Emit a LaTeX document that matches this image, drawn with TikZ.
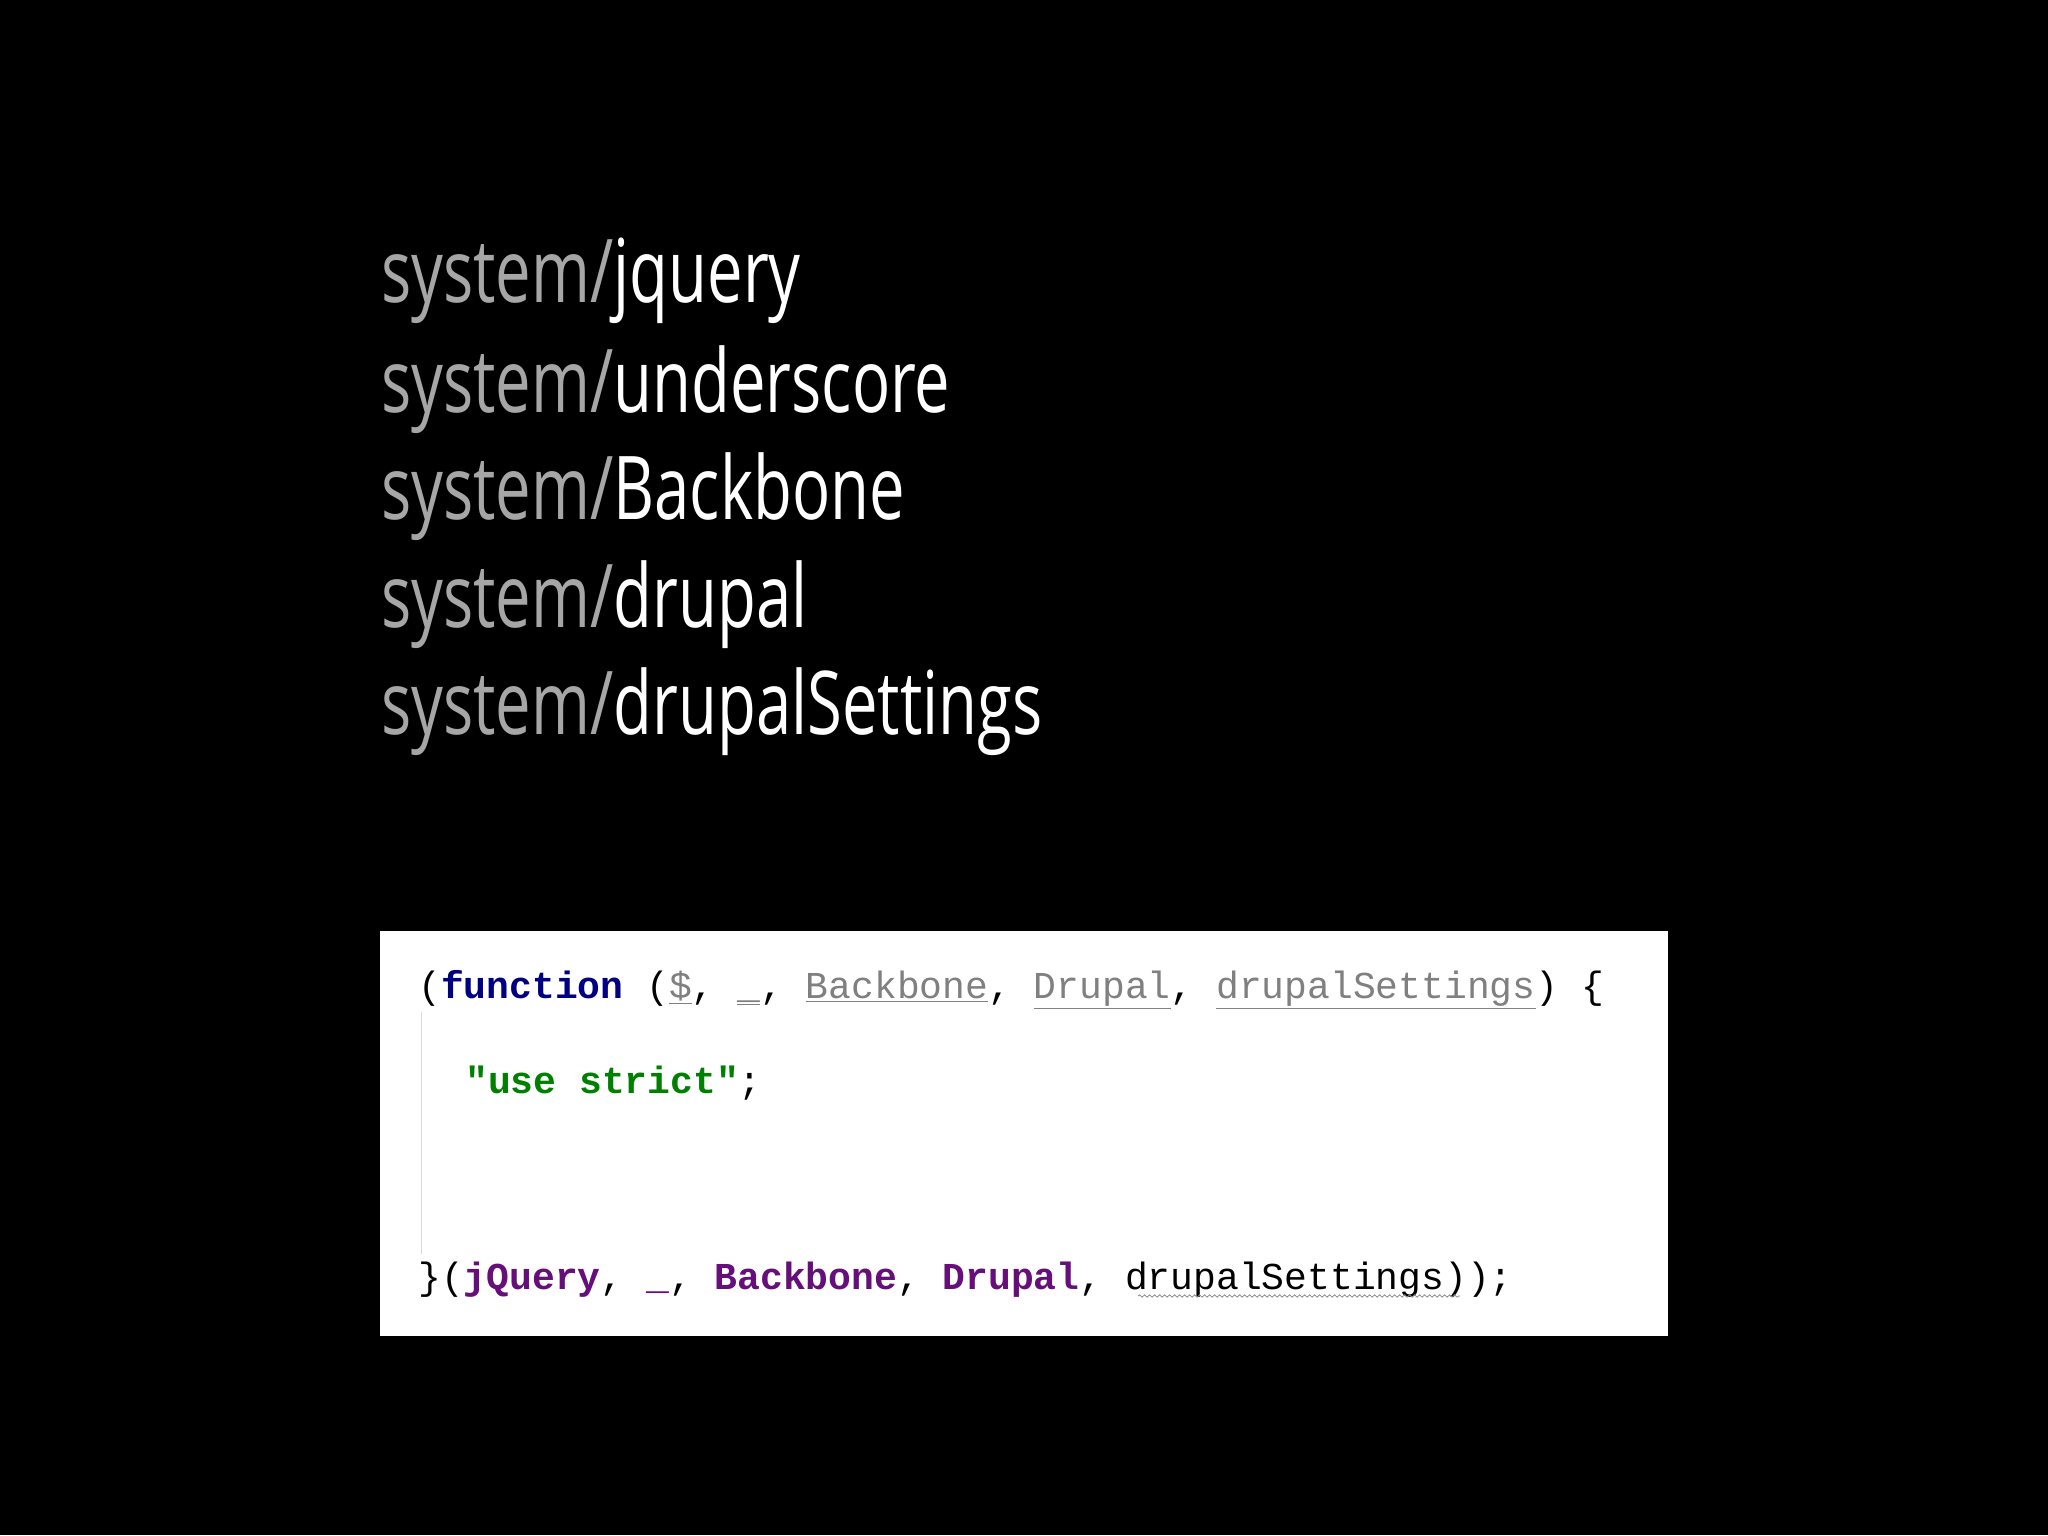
\documentclass[tikz,border=0pt]{standalone}
\usepackage{fontspec}
\usetikzlibrary{decorations.pathmorphing}
\newfontfamily\titlefont[FakeStretch=0.72]{Open Sans}
\newfontfamily\codefont{Liberation Mono}
\definecolor{sysgray}{HTML}{A6A6A6}
\definecolor{kwnavy}{HTML}{000080}
\definecolor{strgreen}{HTML}{008000}
\definecolor{argpurple}{HTML}{660E7A}
\definecolor{pargray}{HTML}{808080}
\begin{document}
\begin{tikzpicture}[x=1pt,y=1pt,
  title/.style={anchor=base west,inner sep=0pt,text=white,font=\titlefont\fontsize{88}{88}\selectfont},
  code/.style={anchor=base west,inner sep=0pt,text=black,font=\codefont\fontsize{38}{38}\selectfont}]
\fill[black] (0,0) rectangle (2048,1535);
\useasboundingbox (0,0) rectangle (2048,1535);
\node[title] (l1) at (381,1232) {\textcolor{sysgray}{system/}jquery};
\node[title] (l2) at (381,1122) {\textcolor{sysgray}{system/}underscore};
\node[title] (l3) at (381,1015) {\textcolor{sysgray}{system/}Backbone};
\node[title] (l4) at (381,907) {\textcolor{sysgray}{system/}drupal};
\node[title] (l5) at (381,800) {\textcolor{sysgray}{system/}drupalSettings};
\fill[white] (380,199) rectangle (1668,604);
\draw[black!15,line width=1pt] (421,523) -- (421,281);
\node[code] (c1) at (418,536) {(\textbf{\textcolor{kwnavy}{function}}\ (\textcolor{pargray}{\underline{\$}}, \textcolor{pargray}{\underline{\_}}, \textcolor{pargray}{\underline{Backbone}}, \textcolor{pargray}{\underline{Drupal}}, \textcolor{pargray}{\underline{drupalSettings}}) \{};
\node[code] (c2) at (465,441) {\textbf{\textcolor{strgreen}{"use strict"}};};
\node[code] (c3) at (418,246) {\}(\textbf{\textcolor{argpurple}{jQuery}}, \textbf{\textcolor{argpurple}{\_}}, \textbf{\textcolor{argpurple}{Backbone}}, \textbf{\textcolor{argpurple}{Drupal}}, drupalSettings));};
\coordinate (w1) at (1138,239);
\coordinate (w2) at (1460,239);
\draw[black!45,line width=0.8pt,decorate,decoration={snake,amplitude=1.2pt,segment length=5pt}] (w1) -- (w2);
\end{tikzpicture}
\end{document}
